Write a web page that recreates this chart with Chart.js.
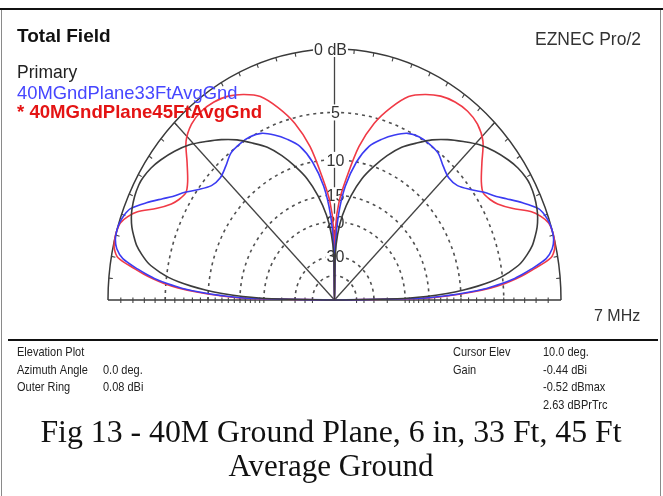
<!DOCTYPE html>
<html>
<head>
<meta charset="utf-8">
<script src="https://cdn.jsdelivr.net/npm/chart.js@4/dist/chart.umd.min.js"></script>
<style>
html,body{margin:0;padding:0;background:#fff;overflow:hidden}
canvas{display:block}
</style>
</head>
<body>
<canvas id="plot" width="663" height="496"></canvas>
<script>
// Elevation angles (degrees above the horizon) at which the patterns are listed.
// The antenna is symmetric, so the 90..180 degree side mirrors these values.
const elevations = [0,1,2,3,4,5,6,7,8,10,12,14,16,18,20,22,25,28,30,33,36,40,44,48,52,56,60,64,68,72,76,80,84,87,89,90];

// Field strength relative to the outer ring, dB (-99 = null)
const primaryDb = [-99,-22,-15.5,-12,-9.6,-7.8,-6.3,-5.2,-4.4,-3.15,-2.4,-1.8,-1.4,-1.05,-0.8,-0.62,-0.45,-0.38,-0.42,-0.6,-0.9,-1.4,-2.0,-2.8,-3.6,-4.5,-5.6,-6.7,-8.2,-10,-12,-14.8,-18.5,-23,-30,-99];
const gnd33Db   = [-99,-16.5,-12,-9,-6.7,-5.2,-4.0,-3.1,-2.3,-0.9,-0.3,-0.05,0,-0.05,-0.2,-0.5,-1.5,-2.6,-3.3,-4.1,-5.0,-5.9,-6.1,-5.7,-5.1,-4.95,-4.95,-5.2,-5.9,-6.8,-7.9,-10,-13.5,-18.5,-27,-99];
const gnd45Db   = [-99,-16,-11.5,-8.5,-6.3,-4.8,-3.7,-2.8,-2.0,-0.52,-0.1,0,0,-0.1,-0.5,-1.1,-2.5,-3.5,-3.9,-4.2,-3.8,-2.8,-1.6,-1.0,-0.8,-0.85,-1.1,-1.6,-2.3,-3.7,-5.5,-8.2,-12.5,-16,-21,-99];

const traceNames = ['Primary', '40MGndPlane33FtAvgGnd', '40MGndPlane45FtAvgGnd'];

// Rings of the ARRL log grid and the labels on the vertical axis
const ringLevels = [0,-5,-10,-15,-20,-30,-40];
const ringLabels = ['0 dB','5','10','15','20','30',''];

// Elevation-plot read-out
const infoLeft  = [['Elevation Plot',''],['Azimuth Angle','0.0 deg.'],['Outer Ring','0.08 dBi']];
const infoRight = [['Cursor Elev','10.0 deg.'],['Gain','-0.44 dBi'],['','-0.52 dBmax'],['','2.63 dBPrTrc']];
const captionLines = ['Fig 13 - 40M Ground Plane, 6 in, 33 Ft, 45 Ft', 'Average Ground'];

// ARRL log scale: each 2 dB down shrinks the radius by 0.89
function arrlRadius(db) {
  if (db <= -99) return 0;
  return Math.pow(0.89, -db / 2);
}

function patternPoints(dbList) {
  const pts = [];
  elevations.forEach((e, i) => {
    const r = arrlRadius(dbList[i]), a = e * Math.PI / 180;
    pts.push({x: r * Math.cos(a), y: r * Math.sin(a)});
  });
  for (let i = elevations.length - 2; i >= 0; i--) {
    const r = arrlRadius(dbList[i]), a = (180 - elevations[i]) * Math.PI / 180;
    pts.push({x: r * Math.cos(a), y: r * Math.sin(a)});
  }
  return pts;
}

function drawText(ctx, s, x, y, font, color, align, sy) {
  ctx.save();
  ctx.font = font;
  ctx.fillStyle = color;
  ctx.textAlign = align || 'left';
  ctx.textBaseline = 'alphabetic';
  ctx.translate(x, y);
  ctx.scale(1, sy || 1);
  ctx.fillText(s, 0, 0);
  ctx.restore();
}

const SANS = '"Liberation Sans", Arial, sans-serif';
const SERIF = '"Liberation Serif", "Times New Roman", serif';

// Polar grid: rings, spokes, baseline and ring labels, drawn under the traces
const polarGrid = {
  id: 'polarGrid',
  beforeDatasetsDraw(chart) {
    const {ctx, scales: {x, y}} = chart;
    const cx = x.getPixelForValue(0), cy = y.getPixelForValue(0);
    const Rx = x.getPixelForValue(1) - cx, Ry = cy - y.getPixelForValue(1);
    ctx.save();

    // dashed inner rings
    ctx.strokeStyle = '#505050';
    ctx.lineWidth = 1.6;
    ctx.setLineDash([3, 4]);
    ringLevels.slice(1).forEach(db => {
      const r = arrlRadius(db);
      ctx.beginPath();
      ctx.ellipse(cx, cy, Rx * r, Ry * r, 0, Math.PI, 2 * Math.PI);
      ctx.stroke();
    });
    ctx.setLineDash([]);

    // outer ring
    ctx.strokeStyle = '#3a3a3a';
    ctx.lineWidth = 1.5;
    ctx.beginPath();
    ctx.ellipse(cx, cy, Rx, Ry, 0, Math.PI, 2 * Math.PI);
    ctx.stroke();

    // baseline
    ctx.beginPath();
    ctx.moveTo(cx - Rx, cy); ctx.lineTo(cx + Rx, cy);
    ctx.stroke();

    // 45 degree spokes and vertical axis
    ctx.lineWidth = 1.3;
    ctx.strokeStyle = '#444';
    [45, 135].forEach(a => {
      const t = a * Math.PI / 180;
      ctx.beginPath();
      ctx.moveTo(cx, cy);
      ctx.lineTo(cx + Rx * Math.cos(t), cy - Ry * Math.sin(t));
      ctx.stroke();
    });
    ctx.beginPath();
    ctx.moveTo(cx, cy); ctx.lineTo(cx, cy - Ry);
    ctx.stroke();

    // ticks on the outer ring every 5 degrees
    ctx.lineWidth = 1.1;
    for (let a = 5; a < 180; a += 5) {
      const t = a * Math.PI / 180;
      const px = cx + Rx * Math.cos(t), py = cy - Ry * Math.sin(t);
      const dx = cx - px, dy = cy - py, len = Math.hypot(dx, dy);
      ctx.beginPath();
      ctx.moveTo(px, py);
      ctx.lineTo(px + dx / len * 4, py + dy / len * 4);
      ctx.stroke();
    }

    // dB ticks along the baseline
    const tickDb = [];
    for (let d = 1; d <= 20; d++) tickDb.push(-d);
    tickDb.push(-25, -30, -35, -40);
    tickDb.forEach(db => {
      const r = arrlRadius(db);
      [-1, 1].forEach(s => {
        const px = cx + s * Rx * r;
        ctx.beginPath();
        ctx.moveTo(px, cy - 2.5); ctx.lineTo(px, cy + 3);
        ctx.stroke();
      });
    });

    // ring labels on the vertical axis
    ctx.font = '16px ' + SANS;
    ringLevels.forEach((db, i) => {
      const s = ringLabels[i];
      if (!s) return;
      const ly = cy - Ry * arrlRadius(db);
      const lx = i === 0 ? cx - 4 : cx + 1;
      const w = ctx.measureText(s).width;
      ctx.fillStyle = '#fff';
      ctx.fillRect(lx - w / 2 - 1, ly - 8, w + 2, 16);
      drawText(ctx, s, lx, ly + 6, '16px ' + SANS, '#333', 'center', 1.05);
    });
    ctx.restore();
  }
};

// Titles, legend, read-out block and caption
const annotations = {
  id: 'annotations',
  afterDraw(chart) {
    const ctx = chart.ctx;
    ctx.save();
    // frame
    ctx.fillStyle = '#111';
    ctx.fillRect(0, 8, 663, 2);
    ctx.fillStyle = '#8a8a8a';
    ctx.fillRect(1, 10, 1, 486);
    ctx.fillRect(660, 10, 1, 486);
    ctx.fillStyle = '#111';
    ctx.fillRect(8, 339, 650, 2);

    drawText(ctx, 'Total Field', 17, 42, 'bold 19px ' + SANS, '#111', 'left', 1.0);
    drawText(ctx, 'EZNEC Pro/2', 535, 45, '17.5px ' + SANS, '#333', 'left', 1.1);
    drawText(ctx, traceNames[0], 17, 78, '17.5px ' + SANS, '#222', 'left', 1.05);
    drawText(ctx, traceNames[1], 17, 98.5, '18.4px ' + SANS, '#4646ff', 'left', 1.0);
    drawText(ctx, '* ' + traceNames[2], 17, 118, 'bold 18.6px ' + SANS, '#e41414', 'left', 1.0);
    drawText(ctx, '7 MHz', 594, 321, '16px ' + SANS, '#333', 'left', 1.05);

    const f = '11px ' + SANS;
    infoLeft.forEach((row, i) => {
      const yy = 356 + i * 17.5;
      drawText(ctx, row[0], 17, yy, f, '#222', 'left', 1.2);
      if (row[1]) drawText(ctx, row[1], 103, yy, f, '#222', 'left', 1.2);
    });
    infoRight.forEach((row, i) => {
      const yy = 356 + i * 17.5;
      if (row[0]) drawText(ctx, row[0], 453, yy, f, '#222', 'left', 1.2);
      drawText(ctx, row[1], 543, yy, f, '#222', 'left', 1.2);
    });

    drawText(ctx, captionLines[0], 331, 442, '31.8px ' + SERIF, '#111', 'center', 1);
    drawText(ctx, captionLines[1], 331, 476, '31px ' + SERIF, '#111', 'center', 1);
    ctx.restore();
  }
};

const traceStyle = (color) => ({
  borderColor: color,
  backgroundColor: color,
  borderWidth: 1.6,
  showLine: true,
  pointRadius: 0,
  tension: 0.3,
  clip: 6,
  fill: false
});

new Chart(document.getElementById('plot'), {
  type: 'scatter',
  data: {
    datasets: [
      Object.assign({label: traceNames[0], data: patternPoints(primaryDb)}, traceStyle('#3c3c3c')),
      Object.assign({label: traceNames[1], data: patternPoints(gnd33Db)}, traceStyle('#3b3bf2')),
      Object.assign({label: traceNames[2], data: patternPoints(gnd45Db)}, traceStyle('#f03a46'))
    ]
  },
  options: {
    responsive: false,
    animation: false,
    events: [],
    layout: {padding: {left: 108, right: 102, top: 49, bottom: 196}},
    scales: {
      x: {type: 'linear', min: -1, max: 1, display: false},
      y: {type: 'linear', min: 0, max: 1, display: false}
    },
    plugins: {legend: {display: false}, tooltip: {enabled: false}}
  },
  plugins: [polarGrid, annotations]
});
</script>
</body>
</html>
